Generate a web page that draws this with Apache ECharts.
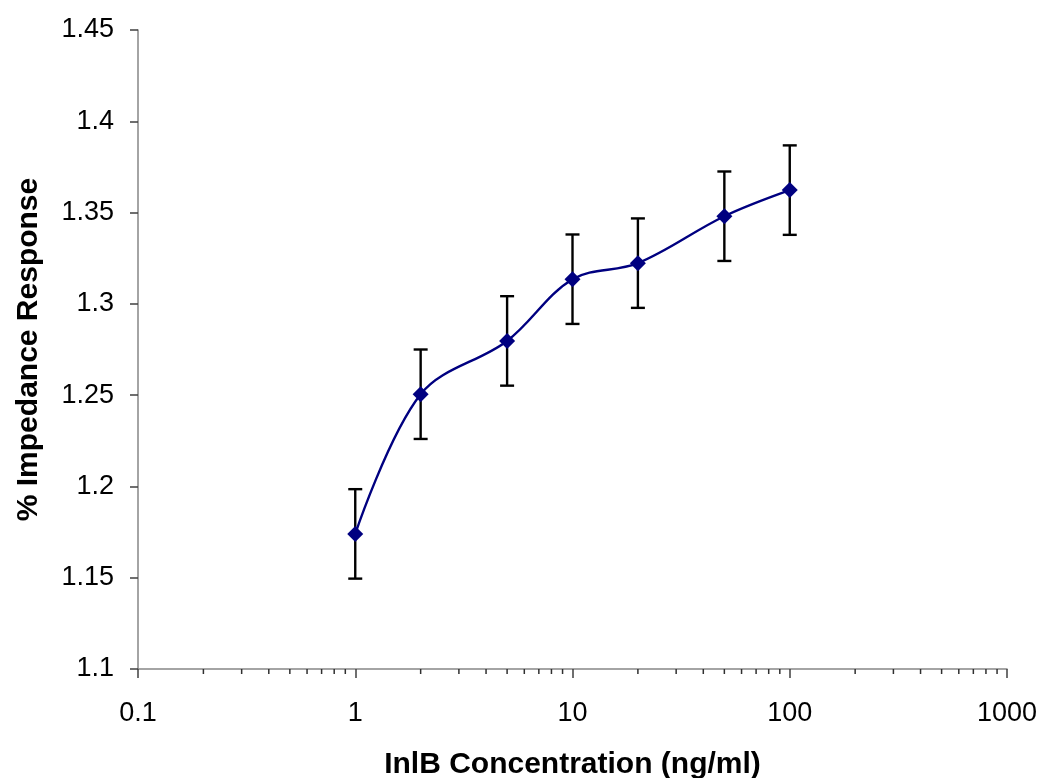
<!DOCTYPE html>
<html>
<head>
<meta charset="utf-8">
<script src="https://cdn.jsdelivr.net/npm/echarts@6/dist/echarts.min.js"></script>
<style>
  html, body { margin: 0; padding: 0; background: #fff; }
  #chart { width: 1042px; height: 778px; }
</style>
</head>
<body>
<div id="chart"></div>
<script>
var concentrations = [1, 2, 5, 10, 20, 50, 100];
var responses = [1.174, 1.2505, 1.2797, 1.3135, 1.3223, 1.348, 1.3623];
var errors = [0.0245, 0.0245, 0.0245, 0.0245, 0.0245, 0.0245, 0.0245];
var minorTickValues = [
  0.2, 0.3, 0.4, 0.5, 0.6, 0.7, 0.8, 0.9,
  2, 3, 4, 5, 6, 7, 8, 9,
  20, 30, 40, 50, 60, 70, 80, 90,
  200, 300, 400, 500, 600, 700, 800, 900
];

var yMin = 1.1;
var fontFamily = '"Liberation Sans", Arial, sans-serif';

var lineData = [];
var errData = [];
for (let i = 0; i < concentrations.length; i++) {
  lineData.push([concentrations[i], responses[i]]);
  errData.push([concentrations[i], responses[i] - errors[i], responses[i] + errors[i]]);
}
var minorData = minorTickValues.map(function (v) { return [v, yMin]; });

var chart = echarts.init(document.getElementById('chart'));
var option = {
  animation: false,
  textStyle: { fontFamily: fontFamily },
  grid: { left: 138, right: 35, top: 30, bottom: 109, outerBoundsMode: 'none' },
  xAxis: {
    type: 'log',
    logBase: 10,
    min: 0.1,
    max: 1000,
    name: 'InlB Concentration (ng/ml)',
    nameLocation: 'middle',
    nameGap: 81,
    nameTextStyle: { fontSize: 30, fontWeight: 'bold', color: '#000', fontFamily: fontFamily },
    axisLine: { lineStyle: { color: '#868686', width: 1.5 } },
    axisTick: { length: 9, lineStyle: { color: '#404040', width: 1.5 } },
    axisLabel: {
      fontSize: 27, color: '#000', margin: 31, fontFamily: fontFamily,
      formatter: function (v) { return String(v); }
    },
    splitLine: { show: false }
  },
  yAxis: {
    type: 'value',
    min: 1.1,
    max: 1.45,
    interval: 0.05,
    name: '% Impedance Response',
    nameLocation: 'middle',
    nameGap: 94,
    nameTextStyle: { fontSize: 30, fontWeight: 'bold', color: '#000', fontFamily: fontFamily },
    axisLine: { show: true, lineStyle: { color: '#868686', width: 1.5 } },
    axisTick: { show: true, length: 8, lineStyle: { color: '#404040', width: 1.5 } },
    axisLabel: {
      fontSize: 27, color: '#000', margin: 24, fontFamily: fontFamily,
      formatter: function (v) { return String(+v.toFixed(2)); }
    },
    splitLine: { show: false }
  },
  series: [
    {
      name: 'minor ticks',
      type: 'custom',
      clip: false,
      silent: true,
      data: minorData,
      renderItem: function (params, api) {
        var p = api.coord([api.value(0), api.value(1)]);
        return {
          type: 'line',
          shape: { x1: p[0], y1: p[1], x2: p[0], y2: p[1] + 5 },
          style: { stroke: '#303030', lineWidth: 1.5 }
        };
      },
      z: 1
    },
    {
      name: 'error',
      type: 'custom',
      data: errData,
      renderItem: function (params, api) {
        var x = api.value(0);
        var lo = api.coord([x, api.value(1)]);
        var hi = api.coord([x, api.value(2)]);
        var hw = 7;
        var style = { stroke: '#000', lineWidth: 2.4 };
        return {
          type: 'group',
          children: [
            { type: 'line', shape: { x1: lo[0], y1: lo[1], x2: hi[0], y2: hi[1] }, style: style },
            { type: 'line', shape: { x1: hi[0] - hw, y1: hi[1], x2: hi[0] + hw, y2: hi[1] }, style: style },
            { type: 'line', shape: { x1: lo[0] - hw, y1: lo[1], x2: lo[0] + hw, y2: lo[1] }, style: style }
          ]
        };
      },
      z: 2
    },
    {
      name: 'response',
      type: 'line',
      data: lineData,
      smooth: 0.35,
      symbol: 'diamond',
      symbolSize: 16,
      lineStyle: { color: '#000080', width: 2.4 },
      itemStyle: { color: '#000080' },
      z: 3
    }
  ]
};
chart.setOption(option);
</script>
</body>
</html>
